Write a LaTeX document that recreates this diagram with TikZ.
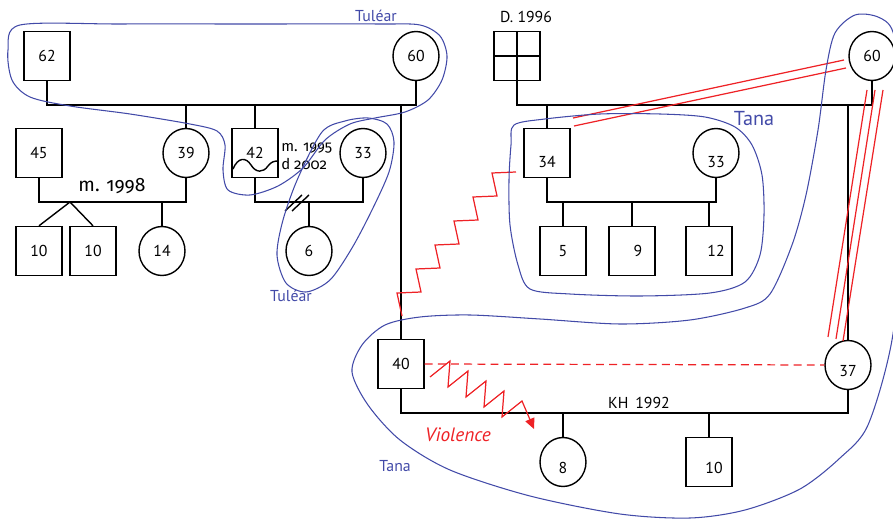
\documentclass[tikz,border=0pt]{standalone}
\usepackage{fontspec}
\setmainfont{PT Sans}
\newfontfamily\oldfig[Numbers=OldStyle]{Fira Sans}
\usetikzlibrary{arrows.meta,shapes.geometric}
\definecolor{lasso}{RGB}{66,74,168}
\definecolor{conflict}{RGB}{238,34,38}

\begin{document}
\begin{tikzpicture}[x=0.02cm,y=-0.02cm,font=\fontsize{9}{10}\selectfont,
  male/.style={draw,line width=.8pt,minimum width=.92cm,minimum height=.98cm,inner sep=0pt},
  female/.style={draw,ellipse,line width=.8pt,minimum width=.92cm,minimum height=.98cm,inner sep=0pt},
  tie/.style={line width=.8pt},
  conf/.style={conflict,line width=.7pt},
  zone/.style={lasso,line width=.6pt},
  place/.style={lasso,inner sep=0pt}]
\useasboundingbox (0,0) rectangle (893,520);

% Tulear family
\node[male] (m62) at (47,56) {62};
\node[female] (f60a) at (416,56) {60};
\node[male] (m45) at (39,153) {45};
\node[female] (f39) at (186,153) {39};
\node[male] (m42) at (255,153) {42};
\node[female] (f33a) at (363,153) {33};
\node[male] (m10a) at (39,251) {10};
\node[male] (m10b) at (93,251) {10};
\node[female] (f14) at (162,251) {14};
\node[female] (f6) at (309,251) {6};

\draw[tie] (m62.south) -- ++(0,24) -| (f60a.south);
\draw[tie] (f39.north) -- ++(0,-24);
\draw[tie] (m42.north) -- ++(0,-24);
\draw[tie] (m45.south) -- ++(0,24) -| (f39.south);
\coordinate (tw) at (70,202);
\draw[tie] (m10a.north) -- (tw) -- (m10b.north);
\draw[tie] (f14.north) -- ++(0,-24);
\draw[tie] (m42.south) -- ++(0,24) -| (f33a.south);
\draw[tie] (f6.north) -- ++(0,-24);
\draw[tie] (285,211) -- (302,195) (292,211) -- (309,195);
\draw[tie] (233,169) .. controls (238,157) and (246,157) .. (251,165)
  .. controls (256,173) and (263,173) .. (268,166) .. controls (271,162) and (274,161) .. (278,161);
\node[font=\oldfig\fontsize{11}{12}\selectfont] (mar98) at (112,186) {m. 1998};
\node[font=\oldfig\fontsize{8.5}{10.2}\selectfont,anchor=west,align=left,inner sep=0pt] (div) at (281,156) {m. 1995\\d 2002};

% Tana family
\node[male] (dec) at (517,56) {};
\draw[tie] (dec.north) -- (dec.south) (dec.west) -- (dec.east);
\node (d96) at (526,17) {D. 1996};
\node[female] (f60b) at (872,56) {60};
\node[male,label={[yshift=-.18cm]center:34}] (m34) at (547,153) {};
\node[female,label={[yshift=-.18cm]center:33}] (f33b) at (716,153) {};
\node[male] (m5) at (563,251) {5};
\node[male,label={[xshift=.12cm]center:9}] (m9) at (632,251) {};
\node[male,label={[xshift=.14cm]center:12}] (m12) at (709,251) {};
\node[male] (m40) at (401,364) {40};
\node[female,label={[yshift=-.12cm]center:37}] (f37) at (848,365) {};
\node[female,label={[yshift=-.12cm]center:8}] (f8) at (563,462) {};
\node[male,label={[xshift=.1cm,yshift=-.12cm]center:10}] (m10c) at (709,462) {};

\draw[tie] (dec.south) -- ++(0,24) -| (f60b.south);
\draw[tie] (m34.north) -- ++(0,-24);
\draw[tie] (m40.north) -- ++(0,-235);
\draw[tie] (f37.north) -- ++(0,-236);
\draw[tie] (m34.south) -- ++(0,24) -| (f33b.south);
\draw[tie] (m5.north) -- ++(0,-24);
\draw[tie] (m9.north) -- ++(0,-24);
\draw[tie] (m12.north) -- ++(0,-24);
\draw[tie] (m40.south) -- ++(0,24) -| (f37.south);
\draw[tie] (f8.north) -- ++(0,-24);
\draw[tie] (m10c.north) -- ++(0,-24);
\node (kh) at (639,403) {KH\ \,1992};

% conflicts
\draw[conf,dash pattern=on 4.5pt off 3pt] (m40.east) -- (f37.west);
\coordinate (a1) at (573,118); \coordinate (b1) at (844,60);
\coordinate (a2) at (574,126); \coordinate (b2) at (846,68);
\draw[conf] (a1) -- (b1) (a2) -- (b2);
\coordinate (c1) at (867,90); \coordinate (d1) at (828,337);
\coordinate (c2) at (875,90); \coordinate (d2) at (836,339);
\coordinate (c3) at (883,90); \coordinate (d3) at (843,341);
\draw[conf] (c1) -- (d1) (c2) -- (d2) (c3) -- (d3);
\coordinate (zz) at (516,172);
\draw[conf] (zz) \foreach \k in {1,...,6} { -- ++(-24,1) -- ++(5,23) };
\coordinate (vv) at (430,377);
\draw[conf,-{Triangle[length=6pt,width=5.5pt]}] (vv) \foreach \k in {1,...,4} { -- ++(20,-16) -- ++(-2,26) } -- ++(20,-16) -- ++(12,28);
\node[conflict,font=\itshape\fontsize{11}{12}\selectfont] (viol) at (458,435) {Violence};

% places
\draw[zone] plot[smooth cycle] coordinates {(20,25) (120,24) (250,24) (380,24) (420,25) (440,36) (447,56) (442,80) (428,100) (405,112) (375,118) (350,124) (325,140) (303,168) (278,186) (250,195) (228,190) (223,170) (225,145) (217,131) (190,124) (130,114) (70,106) (30,97) (12,80) (8,50)};
\draw[zone] plot[smooth cycle] coordinates {(322,132) (345,121) (368,118) (387,124) (394,142) (389,172) (372,210) (352,248) (330,280) (306,292) (286,283) (277,255) (283,220) (298,178)};
\draw[zone] plot[smooth cycle] coordinates {(514,125) (545,119) (600,114) (660,114) (705,117) (735,127) (752,145) (762,175) (764,215) (760,255) (745,282) (710,293) (640,296) (570,294) (530,289) (518,265) (510,225) (509,180) (511,145)};
\draw[zone] plot[smooth cycle] coordinates {(352,372) (362,345) (385,325) (420,317) (470,315) (540,319) (620,324) (690,320) (745,308) (770,294) (792,245) (806,195) (818,130) (826,70) (835,33) (855,15) (878,17) (893,32) (902,90) (904,220) (892,340) (868,425) (840,458) (800,489) (745,510) (690,518) (620,514) (530,496) (450,470) (400,440) (368,405)};
\node[place] (tul1) at (376,16) {Tuléar};
\node[place] (tul2) at (291,296) {Tuléar};
\node[place,font=\fontsize{11.5}{13}\selectfont] (tana1) at (754,119) {Tana};
\node[place] (tana2) at (395,466) {Tana};
\end{tikzpicture}
\end{document}
